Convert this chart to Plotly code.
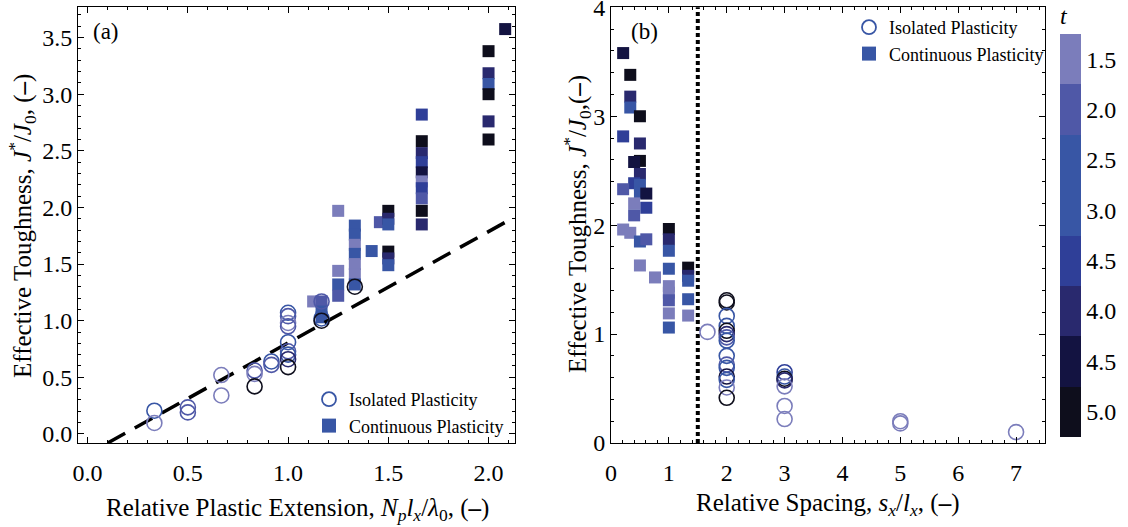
import plotly.graph_objects as go

# ---------------- data ----------------
# Panel (a): Isolated plasticity (open circles)
a_iso_x = [0.333, 0.333, 0.5, 0.5, 0.667, 0.667, 0.833, 0.833, 0.833, 0.917, 0.917,
           1.0, 1.0, 1.0, 1.0, 1.0, 1.0, 1.0, 1.0, 1.0, 1.167, 1.167, 1.167, 1.333]
a_iso_y = [0.205, 0.097, 0.235, 0.19, 0.52, 0.34, 0.56, 0.53, 0.42, 0.64, 0.61,
           1.07, 1.04, 0.98, 0.95, 0.81, 0.73, 0.70, 0.66, 0.59, 1.17, 1.02, 1.0, 1.30]
a_iso_t = [2.5, 1.5, 2.0, 2.0, 1.5, 1.5, 2.0, 1.5, 5.0, 2.5, 2.0,
           2.5, 2.0, 1.5, 2.0, 2.5, 2.0, 2.5, 4.0, 5.0, 2.0, 2.5, 5.0, 5.0]

# Panel (a): Continuous plasticity (filled squares)
a_con_x = [1.125,
           1.167, 1.167, 1.167,
           1.25, 1.25, 1.25, 1.25,
           1.333, 1.333, 1.333, 1.333, 1.333, 1.333, 1.333,
           1.417, 1.458,
           1.5, 1.5, 1.5, 1.5, 1.5, 1.5,
           1.667, 1.667, 1.667, 1.667, 1.667, 1.667, 1.667, 1.667, 1.667, 1.667,
           2.0, 2.0, 2.0, 2.0, 2.0, 2.0,
           2.083]
a_con_y = [1.17,
           1.17, 1.08, 1.03,
           1.97, 1.44, 1.32, 1.22,
           1.84, 1.76, 1.67, 1.59, 1.50, 1.41, 1.32,
           1.615, 1.87,
           1.97, 1.90, 1.85, 1.61, 1.55, 1.49,
           2.82, 2.585, 2.48, 2.40, 2.31, 2.23, 2.17, 2.08, 1.97, 1.85,
           3.38, 3.185, 3.09, 3.00, 2.76, 2.60,
           3.575]
a_con_t = [1.5,
           2.0, 2.5, 2.5,
           1.5, 1.5, 2.5, 2.0,
           2.5, 2.5, 1.5, 2.5, 1.5, 1.5, 2.5,
           2.5, 2.0,
           5.0, 4.0, 2.5, 5.0, 4.0, 2.5,
           3.5, 5.0, 4.0, 3.5, 4.5, 1.5, 3.5, 2.0, 5.0, 4.0,
           5.0, 4.0, 3.0, 5.0, 4.0, 5.0,
           4.5]

# Linear reference line in panel (a)
line_x = [0.10, 2.12]
line_y = [-0.08, 1.905]

# Panel (b): Continuous plasticity (filled squares)
b_con_x = [0.21, 0.333, 0.333, 0.333, 0.5, 0.21, 0.5, 0.5, 0.4, 0.5, 0.4, 0.21, 0.5, 0.5,
           0.61, 0.4, 0.61, 0.4, 0.21, 0.333, 0.5, 0.61, 0.5, 0.76,
           1.0, 1.0, 1.0, 1.0, 1.0, 1.0, 1.0, 1.0, 1.0,
           1.333, 1.333, 1.333, 1.333, 1.333]
b_con_y = [3.58, 3.38, 3.18, 3.08, 3.00, 2.815, 2.75, 2.59, 2.58, 2.47, 2.385, 2.33, 2.37, 2.30,
           2.29, 2.20, 2.16, 2.09, 1.96, 1.93, 1.85, 1.87, 1.63, 1.52,
           1.965, 1.87, 1.765, 1.60, 1.44, 1.38, 1.31, 1.19, 1.06,
           1.61, 1.535, 1.49, 1.32, 1.17]
b_con_t = [4.5, 5.0, 4.0, 3.0, 5.0, 3.5, 4.0, 5.0, 4.5, 4.0, 3.5, 2.0, 3.0, 2.5,
           4.5, 1.5, 3.5, 2.0, 1.5, 1.5, 3.0, 2.0, 1.5, 1.5,
           5.0, 4.0, 3.0, 2.5, 1.5, 1.5, 2.0, 1.5, 3.0,
           5.0, 4.0, 3.0, 2.5, 1.5]

# Panel (b): Isolated plasticity (open circles)
b_iso_x = [1.667,
           2, 2, 2, 2, 2, 2, 2, 2, 2, 2, 2, 2, 2, 2, 2,
           3, 3, 3, 3, 3, 3, 3,
           5, 5,
           7]
b_iso_y = [1.02,
           1.31, 1.29, 1.167, 1.075, 1.03, 1.00, 0.97, 0.94, 0.80, 0.72, 0.69, 0.61, 0.58, 0.51, 0.415,
           0.65, 0.61, 0.59, 0.575, 0.52, 0.34, 0.22,
           0.20, 0.18,
           0.10]
b_iso_t = [1.5,
           5.0, 5.0, 2.5, 2.5, 5.0, 4.0, 2.0, 2.5, 2.5, 2.0, 2.5, 4.5, 2.5, 1.5, 5.0,
           3.5, 2.5, 5.0, 4.0, 1.5, 1.5, 1.5,
           1.5, 1.5,
           1.5]

# Vertical threshold line in panel (b)
thresh_x = 1.5

# colorbar levels (as printed) and colours
t_levels = [1.5, 2.0, 2.5, 3.0, 3.5, 4.0, 4.5, 5.0]
t_labels = ["1.5", "2.0", "2.5", "3.0", "4.5", "4.0", "4.5", "5.0"]
t_colors = ["#7b7dbb", "#4f58a7", "#3856a5", "#3856a5", "#2f3f98", "#29296e", "#131341", "#0e0e1c"]

# ---------------- styling ----------------
FONT = "Times New Roman"
LEG_BLUE = "#3856a5"

# Stepwise colorscale, mapped on c = -t so that t=1.5 appears at the top of the bar
n = len(t_levels)
cmin, cmax = -(t_levels[-1] + 0.25), -(t_levels[0] - 0.25)
colorscale = []
for i in range(n):
    col = t_colors[n - 1 - i]  # bottom (largest t) first
    colorscale.append([i / n, col])
    colorscale.append([(i + 1) / n, col])


def neg(v):
    return [-x for x in v]


fig = go.Figure()

common_marker = dict(colorscale=colorscale, cmin=cmin, cmax=cmax)

# panel (a)
fig.add_trace(go.Scatter(x=a_con_x, y=a_con_y, mode="markers", showlegend=False,
                         marker=dict(symbol="square", size=12, color=neg(a_con_t), line=dict(width=0),
                                     **common_marker),
                         xaxis="x", yaxis="y"))
fig.add_trace(go.Scatter(x=line_x, y=line_y, mode="lines", showlegend=False,
                         line=dict(color="black", width=3.5, dash="20px,11px"),
                         xaxis="x", yaxis="y"))
fig.add_trace(go.Scatter(x=a_iso_x, y=a_iso_y, mode="markers", showlegend=False,
                         marker=dict(symbol="circle-open", size=15, color=neg(a_iso_t),
                                     line=dict(width=1.6), **common_marker),
                         xaxis="x", yaxis="y"))

# panel (b)
fig.add_trace(go.Scatter(x=[thresh_x, thresh_x], y=[0, 4], mode="lines", showlegend=False,
                         line=dict(color="black", width=4, dash="4px,3px"),
                         xaxis="x2", yaxis="y2"))
fig.add_trace(go.Scatter(x=b_con_x, y=b_con_y, mode="markers", showlegend=False,
                         marker=dict(symbol="square", size=12, color=neg(b_con_t), line=dict(width=0),
                                     showscale=True,
                                     colorbar=dict(
                                         x=1060 / 1128, xanchor="left", xpad=0, ypad=0,
                                         y=(527 - 220) / 527, yanchor="middle",
                                         lenmode="pixels", len=434, thickness=21,
                                         outlinewidth=0, ticks="",
                                         tickvals=neg(t_levels), ticktext=t_labels,
                                         tickfont=dict(family=FONT, size=24, color="black"),
                                         title=dict(text="<i>t</i>", side="top",
                                                    font=dict(family=FONT, size=24, color="black"))),
                                     **common_marker),
                         xaxis="x2", yaxis="y2"))
fig.add_trace(go.Scatter(x=b_iso_x, y=b_iso_y, mode="markers", showlegend=False,
                         marker=dict(symbol="circle-open", size=15, color=neg(b_iso_t),
                                     line=dict(width=1.6), **common_marker),
                         xaxis="x2", yaxis="y2"))

# legend entries
for lg in ["legend", "legend2"]:
    fig.add_trace(go.Scatter(x=[None], y=[None], mode="markers", name="Isolated Plasticity",
                             marker=dict(symbol="circle-open", size=14, color=LEG_BLUE, line=dict(width=1.8)),
                             legend=lg, xaxis="x" if lg == "legend" else "x2",
                             yaxis="y" if lg == "legend" else "y2"))
    fig.add_trace(go.Scatter(x=[None], y=[None], mode="markers", name="Continuous Plasticity",
                             marker=dict(symbol="square", size=14, color=LEG_BLUE),
                             legend=lg, xaxis="x" if lg == "legend" else "x2",
                             yaxis="y" if lg == "legend" else "y2"))

tickfont = dict(family=FONT, size=24, color="black")


def axis(domain, rng, dtick, minor_dtick, standoff, fmt):
    return dict(domain=domain, range=rng, dtick=dtick, tick0=0, tickformat=fmt,
                showgrid=False, zeroline=False, showline=True, linecolor="black", linewidth=1,
                mirror="allticks", ticks="inside", ticklen=6, tickwidth=1, tickcolor="black",
                minor=dict(ticks="inside", dtick=minor_dtick, ticklen=3, tickwidth=1, tickcolor="black",
                           showgrid=False),
                tickfont=tickfont, automargin=False, ticklabelstandoff=standoff,
                ticklabeloverflow="allow")


W, H = 1128, 527
ydom = [(H - 443) / H, (H - 7) / H]

ann_font = dict(family=FONT, size=25, color="black")

fig.update_layout(
    width=W, height=H,
    margin=dict(l=0, r=0, t=0, b=0),
    paper_bgcolor="white", plot_bgcolor="white",
    font=dict(family=FONT, color="black"),
    xaxis=axis([78 / W, 515 / W], [-0.048, 2.132], 0.5, 0.1, 8, ".1f"),
    yaxis=axis(ydom, [-0.08, 3.77], 0.5, 0.1, 0, ".1f"),
    xaxis2=dict(axis([611 / W, 1045 / W], [0, 7.5], 1, 0.2, 8, "d"), anchor="y2"),
    yaxis2=dict(axis(ydom, [0, 4.003], 1, 0.2, 0, "d"), anchor="x2"),
    legend=dict(x=309 / W, y=(H - 381) / H, xanchor="left", yanchor="top",
                bgcolor="rgba(0,0,0,0)", font=dict(family=FONT, size=18, color="black"),
                itemwidth=30, tracegroupgap=0),
    legend2=dict(x=849 / W, y=(H - 9) / H, xanchor="left", yanchor="top",
                 bgcolor="rgba(0,0,0,0)", font=dict(family=FONT, size=18, color="black"),
                 itemwidth=30, tracegroupgap=0),
    annotations=[
        dict(text="(a)", x=106 / W, y=(H - 32) / H, xref="paper", yref="paper",
             xanchor="center", yanchor="middle", showarrow=False,
             font=dict(family=FONT, size=23, color="black")),
        dict(text="(b)", x=644 / W, y=(H - 32) / H, xref="paper", yref="paper",
             xanchor="center", yanchor="middle", showarrow=False,
             font=dict(family=FONT, size=23, color="black")),
        dict(text="Relative Plastic Extension, <i>N<sub>p</sub>l<sub>x</sub></i>/<i>λ</i><sub>0</sub>, (<b>–</b>)",
             x=297 / W, y=(H - 509) / H, xref="paper", yref="paper", showarrow=False,
             xanchor="center", yanchor="middle", font=ann_font),
        dict(text="Relative Spacing, <i>s<sub>x</sub></i>/<i>l<sub>x</sub></i>, (<b>–</b>)",
             x=827 / W, y=(H - 504) / H, xref="paper", yref="paper", showarrow=False,
             xanchor="center", yanchor="middle", font=ann_font),
        dict(text="Effective Toughness, <i>J</i><sup>*</sup>/<i>J</i><sub>0</sub>, (<b>–</b>)",
             x=22 / W, y=(H - 226) / H, xref="paper", yref="paper", showarrow=False, textangle=-90,
             xanchor="center", yanchor="middle", font=ann_font),
        dict(text="Effective Toughness, <i>J</i><sup>*</sup>/<i>J</i><sub>0</sub>,(<b>–</b>)",
             x=577 / W, y=(H - 224) / H, xref="paper", yref="paper", showarrow=False, textangle=-90,
             xanchor="center", yanchor="middle", font=ann_font),
    ],
)

fig.write_html("out.html")
